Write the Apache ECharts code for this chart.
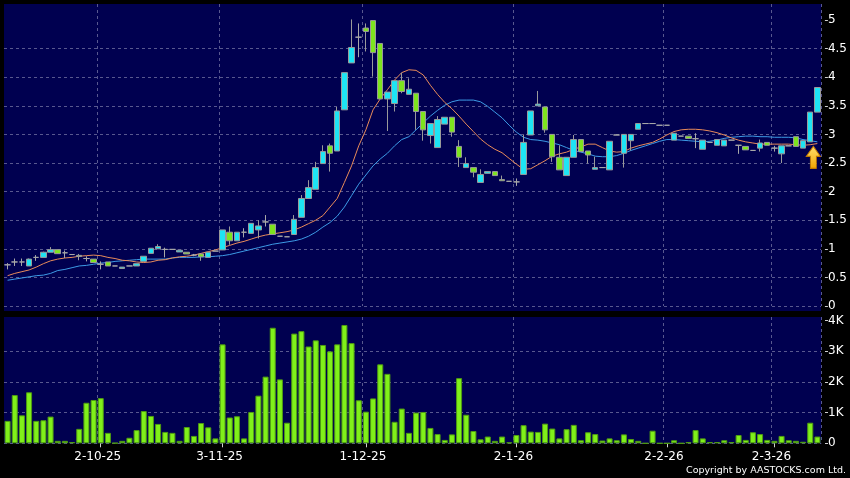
<!DOCTYPE html>
<html><head><meta charset="utf-8">
<script src="https://cdn.jsdelivr.net/npm/echarts@6/dist/echarts.min.js"></script>
<style>html,body{margin:0;padding:0;background:#000;}#c{width:850px;height:478px;}</style>
</head><body><div id="c"></div>
<script>
const dates = ['12-9-25','15-9-25','16-9-25','17-9-25','18-9-25','19-9-25','22-9-25','23-9-25','24-9-25','25-9-25','26-9-25','29-9-25','30-9-25',
'2-10-25','3-10-25','6-10-25','8-10-25','9-10-25','10-10-25','13-10-25','14-10-25','15-10-25','16-10-25','17-10-25','20-10-25','22-10-25','24-10-25','27-10-25','30-10-25','31-10-25',
'3-11-25','4-11-25','5-11-25','6-11-25','7-11-25','10-11-25','11-11-25','12-11-25','13-11-25','14-11-25','17-11-25','18-11-25','19-11-25','20-11-25','21-11-25','24-11-25','25-11-25','26-11-25','27-11-25','28-11-25',
'1-12-25','2-12-25','3-12-25','4-12-25','5-12-25','8-12-25','9-12-25','10-12-25','11-12-25','12-12-25','15-12-25','16-12-25','17-12-25','18-12-25','19-12-25','22-12-25','23-12-25','24-12-25','29-12-25','30-12-25','31-12-25',
'2-1-26','5-1-26','6-1-26','7-1-26','8-1-26','9-1-26','12-1-26','13-1-26','14-1-26','15-1-26','16-1-26','19-1-26','20-1-26','21-1-26','22-1-26','23-1-26','26-1-26','27-1-26','28-1-26','29-1-26','30-1-26',
'2-2-26','3-2-26','4-2-26','5-2-26','6-2-26','9-2-26','10-2-26','11-2-26','12-2-26','13-2-26','20-2-26','23-2-26','24-2-26','25-2-26','26-2-26',
'2-3-26','3-3-26','4-3-26','5-3-26','6-3-26','9-3-26','10-3-26'];
const tickLabels = ['2-10-25','3-11-25','1-12-25','2-1-26','2-2-26','2-3-26'];
const priceTicks = [0,0.5,1,1.5,2,2.5,3,3.5,4,4.5,5];
const volumeTicks = [0,1000,2000,3000,4000];
// [open, close, low, high]
const candles = [
[0.72,0.72,0.64,0.75],[0.77,0.77,0.70,0.83],[0.77,0.77,0.70,0.83],[0.70,0.82,0.70,0.83],[0.85,0.85,0.79,0.89],
[0.85,0.94,0.85,0.95],[0.94,0.985,0.94,1.03],[0.985,0.915,0.91,0.99],[0.93,0.93,0.84,0.97],[0.90,0.90,0.90,0.90],
[0.885,0.865,0.80,0.91],[0.83,0.83,0.78,0.87],[0.82,0.76,0.76,0.82],[0.73,0.73,0.64,0.78],[0.77,0.70,0.70,0.77],
[0.70,0.70,0.70,0.70],[0.656,0.68,0.656,0.68],[0.70,0.70,0.70,0.70],[0.70,0.74,0.70,0.74],[0.78,0.87,0.78,0.87],
[0.92,1.01,0.92,1.01],[1.00,1.04,1.00,1.08],[0.99,0.99,0.85,1.02],[0.99,0.99,0.99,0.99],[0.945,0.975,0.945,0.975],
[0.94,0.91,0.91,0.94],[0.89,0.89,0.87,0.91],[0.91,0.86,0.79,0.91],[0.85,0.94,0.85,0.94],[0.96,0.96,0.96,0.96],
[0.98,1.33,0.98,1.33],[1.29,1.14,1.07,1.39],[1.14,1.29,1.14,1.29],[1.29,1.29,1.20,1.36],[1.27,1.445,1.27,1.445],
[1.33,1.40,1.18,1.50],[1.47,1.47,1.39,1.59],[1.43,1.25,1.25,1.43],[1.22,1.22,1.22,1.22],[1.21,1.21,1.21,1.21],
[1.25,1.515,1.25,1.59],[1.55,1.88,1.55,1.94],[1.88,2.07,1.88,2.20],[2.04,2.42,2.04,2.52],[2.49,2.70,2.49,2.81],
[2.80,2.67,2.35,2.84],[2.71,3.41,2.71,3.48],[3.43,4.08,3.43,4.08],[4.25,4.52,4.25,5.01],[4.70,4.70,4.35,4.94],
[4.86,4.80,4.45,4.94],[4.99,4.43,4.01,4.99],[4.59,3.62,3.62,4.59],[3.62,3.74,3.06,3.74],[3.54,3.94,3.40,3.94],
[3.94,3.75,3.72,4.08],[3.70,3.79,3.70,3.98],[3.72,3.40,3.08,3.72],[3.40,3.08,2.89,3.40],[2.98,3.19,2.84,3.19],
[2.77,3.26,2.77,3.32],[3.18,3.30,3.18,3.30],[3.30,3.04,2.96,3.30],[2.79,2.60,2.43,2.90],[2.42,2.49,2.42,2.60],
[2.42,2.34,2.25,2.42],[2.16,2.30,2.16,2.39],[2.32,2.35,2.32,2.35],[2.35,2.28,2.28,2.35],[2.21,2.19,2.19,2.28],
[2.18,2.18,2.18,2.18],[2.17,2.17,2.10,2.23],[2.30,2.86,2.30,3.00],[2.99,3.41,2.99,3.41],[3.50,3.53,3.50,3.76],
[3.48,3.08,3.03,3.48],[3.00,2.61,2.52,3.00],[2.60,2.38,2.38,2.81],[2.28,2.60,2.28,2.60],[2.60,2.91,2.60,2.99],
[2.91,2.70,2.70,2.91],[2.71,2.64,2.49,2.71],[2.39,2.42,2.39,2.61],[2.42,2.42,2.42,2.42],[2.38,2.88,2.38,2.88],
[2.99,2.99,2.99,2.99],[2.67,3.00,2.42,3.00],[2.89,3.00,2.72,3.00],[3.09,3.19,3.09,3.19],[3.19,3.19,3.19,3.19],
[3.19,3.19,3.19,3.19],[3.16,3.16,3.16,3.16],[3.16,3.16,3.16,3.16],[2.90,3.02,2.90,3.02],[2.97,2.97,2.97,2.97],
[2.97,2.93,2.93,2.97],[2.925,2.925,2.76,3.02],[2.74,2.90,2.74,2.90],[2.86,2.86,2.86,2.86],[2.81,2.91,2.81,2.91],
[2.80,2.90,2.80,2.90],[2.90,2.90,2.90,2.90],[2.81,2.81,2.66,2.81],[2.79,2.73,2.73,2.79],[2.72,2.72,2.72,2.72],
[2.76,2.85,2.70,2.91],[2.86,2.81,2.81,2.86],[2.76,2.76,2.70,2.80],[2.66,2.80,2.50,2.80],[2.80,2.80,2.80,2.80],
[2.96,2.79,2.79,2.96],[2.76,2.89,2.76,2.89],[2.87,3.39,2.87,3.39],[3.39,3.82,3.39,3.82]];
const volumes = [730,1570,910,1660,730,750,870,80,80,40,
470,1320,1410,1470,340,10,80,180,430,1050,
890,630,370,340,80,530,240,660,520,160,
3220,840,880,160,1020,1550,2170,3760,2080,670,
3570,3650,3150,3350,3200,2990,3220,3850,3260,1400,
1030,1460,2570,2260,700,1130,340,1000,1020,500,
300,110,290,2120,930,400,130,220,80,220,
30,270,590,380,370,640,480,160,460,600,
100,360,300,90,160,100,290,140,80,0,
410,0,0,100,0,40,430,160,40,40,
100,40,270,110,360,300,110,80,240,100,
80,50,670,220];
const ma10 = [0.53,0.57,0.60,0.63,0.68,0.74,0.79,0.82,0.84,0.85,
0.87,0.88,0.89,0.88,0.85,0.83,0.80,0.79,0.77,0.76,
0.77,0.80,0.81,0.84,0.86,0.87,0.89,0.92,0.95,0.98,
1.02,1.06,1.10,1.13,1.17,1.21,1.24,1.26,1.28,1.30,
1.33,1.38,1.44,1.50,1.58,1.73,1.88,2.16,2.45,2.80,
3.08,3.43,3.62,3.78,3.95,4.08,4.13,4.12,4.04,3.86,
3.70,3.56,3.45,3.32,3.18,3.05,2.92,2.82,2.74,2.68,
2.58,2.48,2.39,2.40,2.47,2.54,2.62,2.66,2.69,2.74,
2.78,2.83,2.83,2.77,2.71,2.69,2.70,2.76,2.80,2.83,
2.86,2.92,2.99,3.05,3.08,3.09,3.09,3.08,3.06,3.03,
2.99,2.94,2.90,2.87,2.85,2.83,2.83,2.83,2.83,2.83,
2.82,2.81,2.82,2.84];
const ma20 = [0.45,0.47,0.49,0.51,0.53,0.54,0.57,0.62,0.64,0.67,
0.70,0.71,0.73,0.75,0.76,0.78,0.79,0.80,0.81,0.82,
0.82,0.82,0.82,0.84,0.85,0.85,0.85,0.86,0.86,0.87,
0.88,0.90,0.93,0.96,0.99,1.02,1.05,1.08,1.10,1.12,
1.14,1.17,1.22,1.29,1.38,1.46,1.57,1.73,1.93,2.13,
2.29,2.45,2.57,2.67,2.80,2.91,2.96,3.08,3.20,3.32,
3.42,3.51,3.57,3.60,3.60,3.60,3.57,3.49,3.39,3.29,
3.16,3.04,2.95,2.91,2.90,2.88,2.85,2.82,2.77,2.72,
2.69,2.66,2.62,2.61,2.61,2.63,2.67,2.72,2.76,2.80,
2.84,2.88,2.91,2.91,2.90,2.89,2.88,2.87,2.88,2.90,
2.93,2.95,2.96,2.97,2.97,2.96,2.96,2.95,2.95,2.95,
2.94,2.91,2.89,2.87];
const arrowAt = {date: '10-3-26', price: 2.60};

const FONT = 'DejaVu Sans';
const NAVY = '#000050';
const isTick = function (idx, val) { return tickLabels.indexOf(val) >= 0; };
const split = {show: true, interval: isTick, lineStyle: {color: '#58588f', type: [3, 3], width: 1}};
const hsplit = {show: true, showMaxLine: false, lineStyle: {color: '#58588f', type: [3, 3], width: 1}};

const chart = echarts.init(document.getElementById('c'));
chart.setOption({
  backgroundColor: '#000',
  animation: false,
  graphic: [
    {type: 'rect', left: 4, top: 4, z: -100, silent: true, shape: {width: 817, height: 307}, style: {fill: NAVY}},
    {type: 'rect', left: 4, top: 317, z: -100, silent: true, shape: {width: 817, height: 126.3}, style: {fill: NAVY}},
    {type: 'text', right: 4, top: 466, style: {text: 'Copyright by AASTOCKS.com Ltd.', fill: '#fff', font: '9.5px "DejaVu Sans"'}}
  ],
  grid: [
    {left: 4, width: 817, top: 4, height: 302},
    {left: 4, width: 817, top: 317, height: 126.3}
  ],
  xAxis: [
    {type: 'category', gridIndex: 0, data: dates, boundaryGap: true,
     axisLine: {show: false}, axisTick: {show: false}, axisLabel: {show: false}, splitLine: split},
    {type: 'category', gridIndex: 1, data: dates, boundaryGap: true,
     axisLine: {show: false},
     axisTick: {show: true, interval: isTick, alignWithLabel: true, length: 4, lineStyle: {color: '#cfcfcf'}},
     axisLabel: {interval: isTick, color: '#fff', fontFamily: FONT, fontSize: 12, margin: 8, padding: [0, 6, 0, 0]},
     splitLine: split}
  ],
  yAxis: [
    {type: 'value', gridIndex: 0, position: 'right', min: 0, max: 5.28, interval: 0.5, offset: 4,
     axisLine: {show: false},
     axisTick: {show: true, length: 3, customValues: priceTicks, lineStyle: {color: '#cfcfcf'}},
     axisLabel: {color: '#fff', fontFamily: FONT, fontSize: 12, margin: 3, customValues: priceTicks},
     splitLine: hsplit},
    {type: 'value', gridIndex: 1, position: 'right', min: 0, max: 4110, interval: 1000, offset: 4,
     axisLine: {show: false},
     axisTick: {show: true, length: 3, customValues: volumeTicks, lineStyle: {color: '#cfcfcf'}},
     axisLabel: {color: '#fff', fontFamily: FONT, fontSize: 12, margin: 3, customValues: volumeTicks,
       formatter: function (v) { return v === 0 ? '0' : (v / 1000) + 'K'; }},
     splitLine: hsplit}
  ],
  series: [
    {type: 'line', name: 'MA20', xAxisIndex: 0, yAxisIndex: 0, data: ma20, showSymbol: false, z: 2,
     lineStyle: {color: '#3d9be6', width: 1}},
    {type: 'line', name: 'MA10', xAxisIndex: 0, yAxisIndex: 0, data: ma10, showSymbol: false, z: 2,
     lineStyle: {color: '#e98b5a', width: 1}},
    {type: 'candlestick', name: 'Price', xAxisIndex: 0, yAxisIndex: 0, data: candles, barWidth: 6, z: 3,
     itemStyle: {color: '#1ee4f4', color0: '#7ee41e', borderColor: '#9a9a9a', borderColor0: '#9a9a9a',
       borderColorDoji: '#a8a8a8', borderWidth: 1},
     markPoint: {
       silent: true,
       data: [{
         coord: [arrowAt.date, arrowAt.price],
         symbol: 'path://M7,0L14,10L10,10L10,22L4,22L4,10L0,10Z',
         symbolSize: [14, 22], symbolOffset: [-4, 0],
         label: {show: false},
         itemStyle: {
           color: new echarts.graphic.LinearGradient(0, 0, 0, 1, [{offset: 0, color: '#ffe070'}, {offset: 1, color: '#f0a400'}]),
           borderColor: '#c07800', borderWidth: 1
         }
       }]
     }},
    {type: 'bar', name: 'Volume', xAxisIndex: 1, yAxisIndex: 1, data: volumes, barWidth: 6, z: 3,
     itemStyle: {color: '#80f01a', borderColor: '#4f9c12', borderWidth: 1}}
  ]
});
</script></body></html>
